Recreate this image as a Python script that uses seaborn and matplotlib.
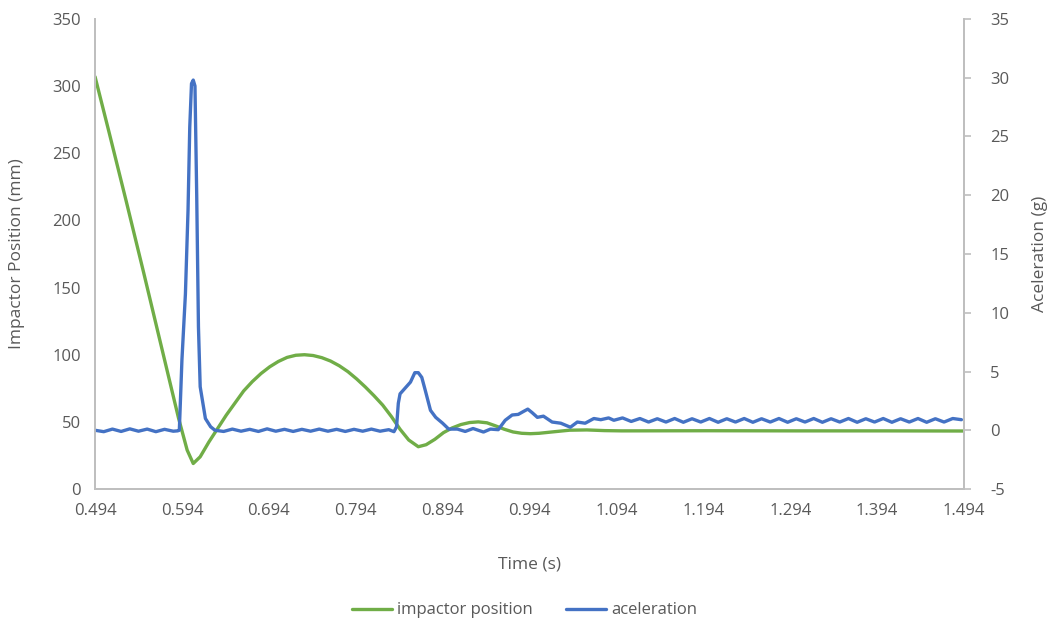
"""Impactor position and acceleration vs time, drop test."""

import matplotlib.pyplot as plt
import pandas as pd
import seaborn as sns

# impactor position (mm)
pos_time = [0.494, 0.510, 0.530, 0.550, 0.570, 0.590, 0.600, 0.607, 0.615,
            0.625, 0.635, 0.645, 0.655, 0.665, 0.675, 0.685, 0.695, 0.705,
            0.715, 0.725, 0.735, 0.745, 0.755, 0.765, 0.775, 0.785, 0.795,
            0.805, 0.815, 0.825, 0.835, 0.845, 0.855, 0.866, 0.875, 0.885,
            0.895, 0.905, 0.915, 0.925, 0.935, 0.945, 0.955, 0.965, 0.975,
            0.985, 0.995, 1.005, 1.020, 1.040, 1.060, 1.080, 1.100, 1.200,
            1.300, 1.400, 1.494]
pos_mm = [307, 266, 214, 161, 107, 53, 29, 19, 24,
          35, 45, 55, 64, 73, 80, 86, 91, 95,
          98, 99.6, 100, 99.4, 97.8, 95.3, 91.8, 87.4, 82,
          76, 69.5, 62.5, 54, 44.5, 36.5, 31.5, 33, 37,
          42, 45.5, 48, 49.5, 50, 49.3, 47, 44.5, 42.5,
          41.5, 41.2, 41.5, 42.5, 43.8, 44, 43.5, 43.3, 43.4,
          43.3, 43.3, 43.2]

# acceleration (g)
acc_time = [0.494, 0.504, 0.514, 0.524, 0.534, 0.544, 0.554, 0.564, 0.574,
            0.584, 0.589, 0.591, 0.594, 0.598, 0.601, 0.603, 0.605, 0.607,
            0.609, 0.611, 0.613, 0.615, 0.621, 0.627, 0.632, 0.642, 0.652,
            0.662, 0.672, 0.682, 0.692, 0.702, 0.712, 0.722, 0.732, 0.742,
            0.752, 0.762, 0.772, 0.782, 0.792, 0.802, 0.812, 0.822, 0.832,
            0.838, 0.841, 0.843, 0.845, 0.851, 0.857, 0.862, 0.866, 0.870,
            0.874, 0.880, 0.886, 0.894, 0.901, 0.911, 0.920, 0.929, 0.941,
            0.949, 0.958, 0.966, 0.974, 0.981, 0.987, 0.992, 0.997, 1.003,
            1.010, 1.020, 1.030, 1.041, 1.049, 1.058, 1.068, 1.076, 1.085,
            1.091, 1.101, 1.111, 1.121, 1.131, 1.141, 1.151, 1.161, 1.171,
            1.181, 1.191, 1.201, 1.211, 1.221, 1.231, 1.241, 1.251, 1.261,
            1.271, 1.281, 1.291, 1.301, 1.311, 1.321, 1.331, 1.341, 1.351,
            1.361, 1.371, 1.381, 1.391, 1.401, 1.411, 1.421, 1.431, 1.441,
            1.451, 1.461, 1.471, 1.481, 1.491]
acc_g = [0.0, -0.12, 0.1, -0.1, 0.12, -0.08, 0.1, -0.12, 0.08,
         -0.08, -0.05, 0.0, 6.0, 11.6, 18.7, 25.8, 29.5, 29.8,
         29.3, 20.0, 8.8, 3.7, 1.0, 0.3, 0.0, -0.1, 0.1,
         -0.08, 0.08, -0.1, 0.12, -0.08, 0.08, -0.1, 0.08, -0.08,
         0.1, -0.08, 0.08, -0.1, 0.08, -0.08, 0.1, -0.08, 0.05,
         -0.12, 0.3, 2.3, 3.1, 3.6, 4.1, 4.9, 4.9, 4.5,
         3.4, 1.7, 1.1, 0.6, 0.1, 0.1, -0.1, 0.15, -0.15,
         0.1, 0.05, 0.85, 1.3, 1.35, 1.6, 1.8, 1.5, 1.1,
         1.2, 0.7, 0.6, 0.26, 0.7, 0.6, 1.0, 0.9, 1.05,
         0.85, 1.05, 0.75, 1.0, 0.7, 0.98, 0.7, 1.0, 0.68,
         0.98, 0.7, 1.0, 0.68, 0.98, 0.7, 1.0, 0.68, 0.98,
         0.7, 1.0, 0.68, 0.98, 0.7, 1.0, 0.68, 0.98, 0.7,
         1.0, 0.68, 0.98, 0.7, 1.0, 0.68, 0.98, 0.7, 1.0,
         0.68, 0.98, 0.7, 1.0, 0.9]

x_ticks = [0.494, 0.594, 0.694, 0.794, 0.894, 0.994, 1.094, 1.194, 1.294,
           1.394, 1.494]

GREEN = "#70AD47"
BLUE = "#4472C4"
GREY = "#595959"
SPINE = "#BFBFBF"


def _main() -> None:
    sns.set_style("white")
    plt.rcParams["font.family"] = ["Open Sans", "DejaVu Sans"]
    plt.rcParams["axes.unicode_minus"] = False
    pos_df = pd.DataFrame({"time": pos_time, "pos": pos_mm})
    acc_df = pd.DataFrame({"time": acc_time, "acc": acc_g})

    fig = plt.figure(figsize=(10.49, 6.18), dpi=100)
    ax = fig.add_axes([0.0906, 0.2087, 0.8284, 0.7606])
    ax2 = ax.twinx()

    sns.lineplot(data=pos_df, x="time", y="pos", ax=ax, color=GREEN,
                 linewidth=2.4, legend=False)
    sns.lineplot(data=acc_df, x="time", y="acc", ax=ax2, color=BLUE,
                 linewidth=2.4, legend=False)

    ax.set_xlim(0.494, 1.494)
    ax.set_ylim(0, 350)
    ax2.set_ylim(-5, 35)
    ax.set_xticks(x_ticks)
    ax.set_xticklabels([f"{t:.3f}" for t in x_ticks])
    ax.set_yticks(range(0, 351, 50))
    ax2.set_yticks(range(-5, 36, 5))

    ax.set_xlabel("Time (s)", fontsize=12.5, color=GREY, labelpad=27)
    ax.set_ylabel("Impactor Position (mm)", fontsize=12.5, color=GREY,
                  labelpad=20)
    ax2.set_ylabel("Aceleration (g)", fontsize=12.5, color=GREY, labelpad=16)

    ax.tick_params(axis="both", labelsize=12, colors=GREY, length=0, pad=10)
    ax2.tick_params(axis="y", labelsize=12, colors=GREY, length=5,
                    width=1.2, color=SPINE, direction="out", pad=14)

    for a in (ax, ax2):
        a.spines["top"].set_visible(False)
        for side in ("left", "bottom", "right"):
            a.spines[side].set_color(SPINE)
            a.spines[side].set_linewidth(1.3)

    handles = [ax.get_lines()[0], ax2.get_lines()[0]]
    fig.legend(handles, ["impactor position", "aceleration"],
               loc="lower center", bbox_to_anchor=(0.5, -0.025), ncol=2,
               frameon=False, fontsize=12, labelcolor=GREY,
               handlelength=2.4, handletextpad=0.3, columnspacing=2.0)

    fig.savefig("out.png", dpi=100, facecolor="w")


if __name__ == "__main__":
    _main()
